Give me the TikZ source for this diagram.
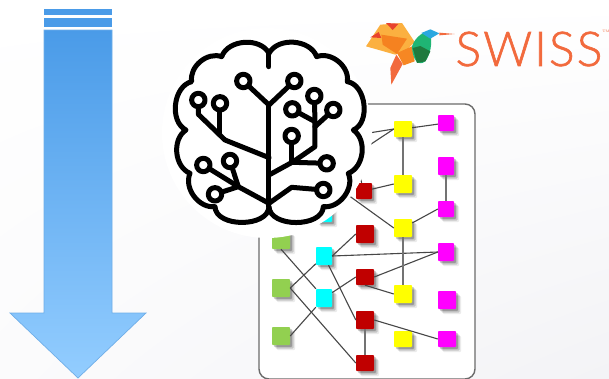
\documentclass[tikz,border=0pt]{standalone}
\usepackage{fontspec}
\usetikzlibrary{shadows,shadings}
\newfontfamily\logofont[UprightFont=* Light,FakeBold=1.3,LetterSpace=4.5]{Lato}
\definecolor{arrowtop}{HTML}{4A9BE8}
\definecolor{arrowbot}{HTML}{93CDFF}
\definecolor{arrowedge}{HTML}{6FAEE8}
\definecolor{leafgreen}{HTML}{92D050}
\definecolor{darkred}{HTML}{C00000}
\definecolor{aqua}{HTML}{00FFFF}
\definecolor{pink}{HTML}{FF00FF}
\definecolor{lemon}{HTML}{FFFF00}
\definecolor{logoorange}{HTML}{F26A3D}
\definecolor{wingpale}{HTML}{FBB040}
\definecolor{wingdark}{HTML}{F58220}
\definecolor{wingtip}{HTML}{E8432E}
\definecolor{headgreen}{HTML}{1FB574}
\definecolor{throat}{HTML}{1F7A3E}
\definecolor{crown}{HTML}{2AA8E0}
\definecolor{paleright}{HTML}{F3F3F6}
\definecolor{palemid}{HTML}{FBFBFC}
\tikzset{
  softshadow/.style={
    drop shadow={shadow xshift=2pt,shadow yshift=-2pt,opacity=.22,fill=black},
    drop shadow={shadow xshift=3.5pt,shadow yshift=-3.5pt,opacity=.16,fill=black},
    drop shadow={shadow xshift=5pt,shadow yshift=-5pt,opacity=.08,fill=black}},
  cell/.style={minimum width=18pt,minimum height=18pt,inner sep=0pt,rounded corners=.8pt,softshadow},
  narrow/.style={minimum width=16pt},
  flat/.style={minimum height=16pt},
  link/.style={draw=black!72,line width=1.1pt},
  bar/.style={draw=black!55,line width=2pt},
  brainline/.style={line width=5pt,line join=round,line cap=round}
}
\begin{document}
\begin{tikzpicture}[x=1pt,y=-1pt]
  \useasboundingbox (0,0) rectangle (609,378);
  \shade[upper left=white,upper right=white,lower left=palemid,lower right=paleright] (0,0) rectangle (609,378);

  % Arrow
  \fill[arrowtop] (44,9) rectangle (112,15);
  \fill[arrowtop] (44,18) rectangle (112,27);
  \shade[top color=arrowtop,bottom color=arrowbot,draw=arrowedge,line width=.7pt]
    (44,30) -- (112,30) -- (112,313) -- (146,313) -- (78,378) -- (10,313) -- (44,313) -- cycle;

  % Frame
  \draw[black!58,line width=1.4pt,fill=white,rounded corners=10pt] (259,104) rectangle (475,379);

  % Cells
  \node[cell,narrow,fill=aqua] (cyan0) at (324,213) {};
  \node[cell,fill=leafgreen] (green1) at (281,240) {};
  \node[cell,fill=leafgreen] (green2) at (281,288) {};
  \node[cell,fill=leafgreen] (green3) at (281,336) {};
  \node[cell,narrow,fill=aqua] (cyan1) at (324,256) {};
  \node[cell,narrow,fill=aqua] (cyan2) at (324,298) {};
  \node[cell,narrow,flat,fill=darkred] (red1) at (364,191) {};
  \node[cell,fill=darkred] (red2) at (365,234) {};
  \node[cell,flat,fill=darkred] (red3) at (365,277) {};
  \node[cell,fill=darkred] (red4) at (365,320) {};
  \node[cell,flat,fill=darkred] (red5) at (365,363) {};
  \node[cell,flat,fill=lemon] (yellow1) at (403,129) {};
  \node[cell,fill=lemon] (yellow2) at (403,184) {};
  \node[cell,fill=lemon] (yellow3) at (403,228) {};
  \node[cell,fill=lemon] (yellow4) at (403,294) {};
  \node[cell,flat,fill=lemon] (yellow5) at (403,339) {};
  \node[cell,narrow,flat,fill=pink] (pink1) at (446,123) {};
  \node[cell,narrow,fill=pink] (pink2) at (446,166) {};
  \node[cell,narrow,flat,fill=pink] (pink3) at (446,209) {};
  \node[cell,narrow,fill=pink] (pink4) at (446,252) {};
  \node[cell,fill=pink] (pink5) at (447,300) {};
  \node[cell,flat,fill=pink] (pink6) at (447,339) {};

  % Ends hidden by the brain
  \coordinate (hid1) at (350,136);
  \coordinate (hid2) at (350,158);
  \coordinate (hid3) at (358,170);
  \coordinate (hid4) at (330,182);

  % Links
  \draw[link] (hid1) -- (yellow1.west);
  \draw[link] (hid2) -- (yellow1.west);
  \draw[link] (yellow1) -- (pink1);
  \draw[link] (hid3) -- (red1);
  \draw[link] (red1) -- (yellow2.west);
  \draw[link] (hid4) -- (yellow3.west);
  \draw[link] (yellow3) -- (pink3.west);
  \draw[link] (green1.south) -- (cyan2);
  \draw[link] (green2.east) -- (cyan1);
  \draw[link] (green2.east) -- (red5.west);
  \draw[link] (green3.east) -- (cyan2);
  \draw[link] (cyan2) -- (red3.west);
  \draw[link] (cyan1.east) -- (red2.west);
  \draw[link] (cyan1.east) -- (pink4.west);
  \draw[link] (cyan1) -- (red4.west);
  \draw[link] (red3.east) -- (pink4.west);
  \draw[link] (red3.south) -- (yellow4.west);
  \draw[link] (red4.east) -- (pink6.west);
  \draw[bar] (yellow1) -- (yellow2);
  \draw[bar] (yellow3) -- (yellow4);
  \draw[bar] (pink2) -- (pink3);
  \draw[bar] (red4) -- (red5);

  % Halo
  \fill[white] (267,133) circle (105);

  % Brain
  \begin{scope}[shift={(160,25)},x=.3333pt,y=-.3333pt]
    \draw[brainline,fill=white] (327,85)
      to[bend left=66] (470,95) to[bend left=60] (562,170) to[bend left=74] (580,315)
      to[bend left=62] (565,445) to[bend left=60] (490,545) to[bend left=88] (327,545)
      to[bend left=88] (165,545) to[bend left=60] (90,445) to[bend left=62] (78,315)
      to[bend left=70] (95,170) to[bend left=60] (185,95) to[bend left=66] (327,85);
    \draw[brainline] (327,85) -- (327,125);
    \draw[brainline] (327,240) -- (327,545);
    \draw[brainline] (250,168) -- (327,240) -- (403,168);
    \draw[brainline] (327,398) -- (195,345) -- (115,268) -- (115,225);
    \draw[brainline] (180,235) -- (180,330);
    \draw[brainline] (327,535) -- (235,485) -- (130,420);
    \draw[brainline] (210,408) -- (235,485) -- (165,508);
    \draw[brainline] (327,450) -- (400,410) -- (465,365) -- (465,290) -- (397,253);
    \draw[brainline] (463,213) -- (465,290);
    \draw[brainline] (520,255) -- (465,305);
    \draw[brainline] (395,333) -- (395,410);
    \draw[brainline] (400,412) -- (500,415);
    \draw[brainline] (327,535) -- (395,487) -- (490,495);
    \foreach \cx/\cy in {250/168,403/168,115/225,180/235,130/420,210/408,165/508,
        397/253,463/213,520/255,395/333,500/415,490/495}
      \draw[brainline,fill=white] (\cx,\cy) circle (6.7pt);
  \end{scope}

  % Logo
  \begin{scope}[shift={(362,18)},x=.3333pt,y=-.3333pt]
    \fill[wingpale] (12,85) -- (55,20) -- (120,15) -- (158,72) -- (135,95) -- (100,110) -- cycle;
    \fill[wingtip] (25,58) -- (50,42) -- (58,60) -- cycle;
    \fill[wingtip] (72,15) -- (110,17) -- (92,36) -- cycle;
    \fill[wingdark] (58,50) -- (135,62) -- (105,108) -- (62,80) -- cycle;
    \fill[wingdark!90!wingpale] (105,105) -- (150,85) -- (158,130) -- (125,142) -- cycle;
    \fill[logoorange] (103,110) -- (122,138) -- (88,200) -- (85,150) -- cycle;
    \fill[headgreen] (150,85) .. controls (160,55) and (190,35) .. (205,45) .. controls (212,75) and (205,110) .. (190,130) .. controls (170,145) and (152,130) .. cycle;
    \fill[throat] (152,90) -- (175,84) -- (205,100) -- (190,130) -- (165,135) -- cycle;
    \fill[crown] (178,45) -- (205,34) -- (232,46) -- (205,62) -- cycle;
    \fill[logoorange] (232,44) -- (278,48) -- (232,52) -- cycle;
  \end{scope}
  \node[text=logoorange,inner sep=0pt,font=\logofont\fontsize{48}{48}\selectfont] (logotext) at (529,49) {SWISS};
  \node[text=logoorange,inner sep=0pt,font=\fontsize{3.5}{4}\selectfont] (logotm) at (606,31) {TM};
\end{tikzpicture}
\end{document}
